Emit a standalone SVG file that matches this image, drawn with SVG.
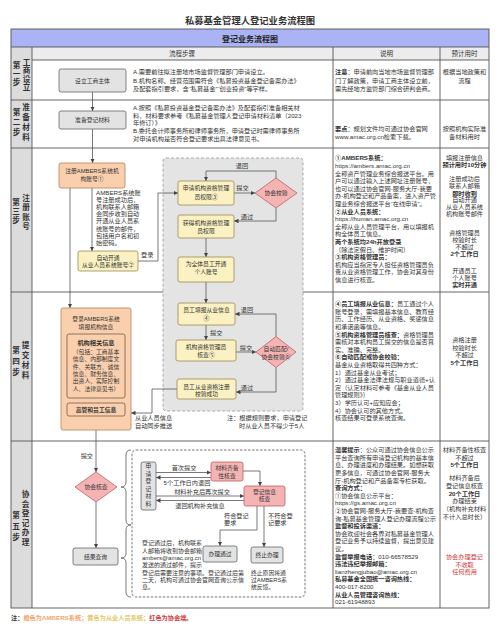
<svg xmlns="http://www.w3.org/2000/svg" width="500" height="640" viewBox="0 0 500 640">
<defs>
<style>
text{font-family:'Liberation Sans','Noto Sans CJK SC',sans-serif;font-size:6.2px;fill:#333}
.c{text-anchor:middle}
.e{text-anchor:end}
.b{font-weight:bold}
.s{font-size:5.8px}
.lb{font-size:7.6px;font-weight:bold;text-anchor:middle}
.grid{stroke:#555;stroke-width:0.9;fill:none}
.gray{fill:#e3e3e3;stroke:#666;stroke-width:0.8}
.org{fill:#f9cfae;stroke:#b9825c;stroke-width:0.8}
.yel{fill:#fbf1c2;stroke:#9a8a55;stroke-width:0.8}
.pink{fill:#f5b4b4;stroke:#bf5f5f;stroke-width:0.8}
.ln{fill:none;stroke:#555;stroke-width:0.8}
.ar{marker-end:url(#ah)}
.red{fill:#d23a3a}
</style>
<marker id="ah" viewBox="0 0 10 10" refX="10" refY="5" markerWidth="4.5" markerHeight="4.5" markerUnits="userSpaceOnUse" orient="auto"><path d="M0,0 L10,5 L0,10 z" fill="#444"/></marker>
</defs>
<rect x="0" y="0" width="500" height="640" fill="#fff"/>
<text x="250" y="23.5" class="c b" style="font-size:9.3px">私募基金管理人登记业务流程图</text>

<g id="table">
<rect x="11" y="29" width="478" height="18" fill="#aab3f3"/>
<rect x="32" y="47" width="457" height="13" fill="#ececec"/>
<rect x="11" y="47" width="21" height="561" fill="#dcdcdc"/>
<rect x="11" y="29" width="478" height="579" class="grid"/>
<path class="grid" d="M11,47 H489 M32,60 H489 M11,100 H489 M11,148 H489 M11,292 H489 M11,441 H489 M32,47 V608 M333,47 V608 M440,47 V608"/>
<text x="250" y="42.3" class="c b" style="font-size:8px;fill:#222">登记业务流程图</text>
<text x="182" y="56.3" class="c" style="font-size:6.5px">流程步骤</text>
<text x="386.5" y="56.3" class="c" style="font-size:6.5px">说明</text>
<text x="464.5" y="56.3" class="c" style="font-size:6.5px">预计用时</text>
</g>

<g id="step-labels">
<text class="lb"><tspan x="16.5" y="68.4">第</tspan><tspan x="16.5" y="76.9">一</tspan><tspan x="16.5" y="85.4">步</tspan></text>
<text class="lb"><tspan x="26.5" y="64.9">工</tspan><tspan x="26.5" y="73.4">商</tspan><tspan x="26.5" y="81.9">设</tspan><tspan x="26.5" y="90.4">立</tspan></text>
<text class="lb"><tspan x="16.5" y="114.6">第</tspan><tspan x="16.5" y="124.6">二</tspan><tspan x="16.5" y="134.6">步</tspan></text>
<text class="lb"><tspan x="26" y="109.6">准</tspan><tspan x="26" y="119.6">备</tspan><tspan x="26" y="129.6">材</tspan><tspan x="26" y="139.6">料</tspan></text>
<text class="lb"><tspan x="16" y="204.9">第</tspan><tspan x="16" y="213.9">三</tspan><tspan x="16" y="222.9">步</tspan></text>
<text class="lb"><tspan x="26" y="200.9">注</tspan><tspan x="26" y="210.4">册</tspan><tspan x="26" y="219.9">账</tspan><tspan x="26" y="229.4">号</tspan></text>
<text class="lb"><tspan x="16" y="352.9">第</tspan><tspan x="16" y="363.9">四</tspan><tspan x="16" y="374.9">步</tspan></text>
<text class="lb"><tspan x="25.5" y="347.9">提</tspan><tspan x="25.5" y="357.9">交</tspan><tspan x="25.5" y="367.9">材</tspan><tspan x="25.5" y="377.9">料</tspan></text>
<text class="lb"><tspan x="16" y="517.9">第</tspan><tspan x="16" y="528.9">五</tspan><tspan x="16" y="539.9">步</tspan></text>
<text class="lb"><tspan x="25.5" y="496.9">协</tspan><tspan x="25.5" y="506.5">会</tspan><tspan x="25.5" y="516.1">登</tspan><tspan x="25.5" y="525.7">记</tspan><tspan x="25.5" y="535.3">办</tspan><tspan x="25.5" y="544.9">理</tspan></text>
</g>

<g id="regions">
<rect x="163" y="158" width="140" height="253" rx="3" fill="#e4e4e4" stroke="#9a9a9a" stroke-width="0.8" stroke-dasharray="3,2"/>
<rect x="132" y="450" width="173" height="147" rx="4" fill="#fff" stroke="#555" stroke-width="0.8" stroke-dasharray="2.5,1.5"/>
<path class="ln" d="M131,450 Q126,450 126,455 V482 Q126,487 121,487 Q126,487 126,492 V520 Q126,525 131,525"/>
<path class="ln" d="M131,525 Q126,525 126,530 V553 Q126,558 121,558 Q126,558 126,563 V592 Q126,597 131,597"/>
</g>

<g id="connectors">
<path class="ln ar" d="M92.5,92 V111"/>
<path class="ln ar" d="M92.5,129 V163"/>
<path class="ln ar" d="M70,188 V308"/>
<path class="ln ar" d="M92,188 V251"/>
<path class="ln ar" d="M138,261 H158 V193 H178"/>
<path class="ln ar" d="M234,193 H255"/>
<path class="ln ar" d="M276,178 V171 H206 V181"/>
<path class="ln ar" d="M276,208 V221 H234"/>
<path class="ln ar" d="M206,238 V257"/>
<path class="ln ar" d="M206,282 V303"/>
<path class="ln ar" d="M206,325 V340"/>
<path class="ln ar" d="M236,352 H256"/>
<path class="ln ar" d="M276,336.5 V314 H235"/>
<path class="ln ar" d="M276,367.5 V392 H236"/>
<path class="ln ar" d="M177,389 H152 V413 H131"/>
<path class="ln ar" d="M96,430 V472"/>
<path class="ln ar" d="M96,502 V548"/>
<path class="ln ar" d="M156,472.5 H211"/>
<path class="ln ar" d="M211,477.5 H156"/>
<path class="ln ar" d="M156,496 H244"/>
<path class="ln ar" d="M244,500.5 H156"/>
<path class="ln ar" d="M243,471 H260 V486"/>
<path class="ln ar" d="M257,506 V530 H220 V546"/>
<path class="ln ar" d="M264,506 V547"/>
<text x="141" y="257">登录</text>
<text x="242.5" y="190" class="c">提交</text>
<text x="242" y="168" class="c">退回</text>
<text x="247" y="219" class="c">通过</text>
<text x="210" y="335">提交</text>
<text x="246" y="349.5" class="c">提交</text>
<text x="247" y="311.5" class="c">退回</text>
<text x="247" y="389.5" class="c">通过</text>
<text x="135" y="420">从业人员信息</text>
<text x="135" y="428">自动同步推送</text>
<text x="93" y="458" class="e">提交</text>
<text x="184" y="470.2" class="c">首次提交</text>
<text x="187" y="484.8" class="c">5个工作日内退回</text>
<text x="202" y="493.7" class="c">材料补充后再次提交</text>
<text x="200" y="508" class="c">退回机构补充信息</text>
<text x="224" y="517.5">符合登记</text>
<text x="224" y="525.2">要求</text>
<text x="268" y="517.5">不符合登</text>
<text x="268" y="525.2">记要求</text>
</g>

<g id="step1">
<g id="n-setup"><rect x="59" y="69" width="67" height="23" rx="2" class="gray"/><text x="92.5" y="82.6" class="c s">设立工商主体</text></g>
<text x="133" y="74.3">A.需要前往拟注册地市场监督管理部门申请设立。</text>
<text x="133" y="82.5">B.机构名称、经营范围需符合《私募投资基金登记备案办法》</text>
<text x="133" y="90.7">及配套指引要求，含“私募基金”“创业投资”等字样。</text>
<text x="335" y="74.3"><tspan class="b">注意</tspan>：申请前向当地市场监督管理部</text>
<text x="335" y="82.5">门了解政策，申请工商主体设立前，</text>
<text x="335" y="90.7">需先经地方监管部门综合研判会商。</text>
<text x="464.5" y="74.3" class="c">根据当地政策和</text>
<text x="464.5" y="82.5" class="c">流程</text>
</g>

<g id="step2">
<g id="n-prepare"><rect x="59" y="111" width="67" height="18" rx="2" class="gray"/><text x="92.5" y="122.2" class="c s">准备登记材料</text></g>
<text x="133" y="110.2">A.按照《私募投资基金登记备案办法》及配套指引准备相关材</text>
<text x="133" y="117.8">料，材料要求参考《私募基金管理人登记申请材料清单（2023</text>
<text x="133" y="125.4">年修订）》</text>
<text x="133" y="133">B.委托会计师事务所和律师事务所，申请登记时需律师事务所</text>
<text x="133" y="140.6">对申请机构是否符合登记要求出具法律意见书。</text>
<text x="335" y="130.5"><tspan class="b">要点</tspan>：规划文件均可通过协会官网</text>
<text x="335" y="138.5">www.amac.org.cn检索下载。</text>
<text x="464.5" y="130.5" class="c">按照机构实际准</text>
<text x="464.5" y="138.5" class="c">备材料用时</text>
</g>

<g id="step3">
<g id="n-ambers"><rect x="59" y="163" width="66" height="25" rx="2" class="org"/><text x="92" y="173.2" class="c s">注册AMBERS系统机</text><text x="92" y="180.7" class="c s">构账号①</text></g>
<text x="96" y="195">AMBERS系统账</text>
<text x="96" y="202.1">号注册成功后，</text>
<text x="96" y="209.2">机构联系人邮箱</text>
<text x="96" y="216.3">会同步收到自动</text>
<text x="96" y="223.4">开通从业人员系</text>
<text x="96" y="230.5">统账号的邮件，</text>
<text x="96" y="237.6">包括用户名和初</text>
<text x="96" y="244.7">始密码。</text>
<g id="n-auto"><rect x="78" y="251" width="60" height="20" rx="2" class="yel"/><text x="108" y="259.8" class="c s">自动开通</text><text x="108" y="267" class="c s">从业人员系统账号②</text></g>
<g id="n-apply-admin"><rect x="178" y="181" width="56" height="24" rx="2" class="yel"/><text x="206" y="190.4" class="c s">申请机构资格管理</text><text x="206" y="198.5" class="c s">员权限③</text></g>
<g id="n-verify"><polygon points="276,178 297,193 276,208 255,193" class="pink"/><text x="276" y="195.2" class="c s">协会校验</text></g>
<g id="n-get-admin"><rect x="178" y="215" width="56" height="23" rx="2" class="yel"/><text x="206" y="225" class="c s">获得机构资格管理</text><text x="206" y="232.8" class="c s">员权限</text></g>
<g id="n-open"><rect x="178" y="257" width="56" height="25" rx="2" class="yel"/><text x="206" y="266.3" class="c s">为全体员工开通</text><text x="206" y="274.3" class="c s">个人账号</text></g>
<text x="335" y="160.3" class="b">①AMBERS系统：</text>
<text x="335" y="167.9">https://ambers.amac.org.cn</text>
<text x="335" y="175.5">全称资产管理业务综合报送平台。用</text>
<text x="335" y="183.1">户可以通过输入上述网址注册账号，</text>
<text x="335" y="190.7">也可以通过协会官网-服务大厅-我要</text>
<text x="335" y="198.3">办-机构登记和产品备案，进入资产管</text>
<text x="335" y="205.9">理业务综合报送平台“在线申请”。</text>
<text x="335" y="213.5" class="b">②从业人员系统：</text>
<text x="335" y="221.1">https://human.amac.org.cn</text>
<text x="335" y="228.7">全称从业人员管理平台，用以填报机</text>
<text x="335" y="236.3">构全体员工信息。</text>
<text x="335" y="243.9" class="b">两个系统均24h开放登录</text>
<text x="335" y="251.5">（除法定假日、维护时间）</text>
<text x="335" y="259.1" class="b">③机构资格管理员：</text>
<text x="335" y="266.7">机构应当指定专人担任资格管理员负</text>
<text x="335" y="274.3">责从业资格管理工作，协会对其身份</text>
<text x="335" y="281.9">信息进行核查。</text>
<text x="464.5" y="159.7" class="c">填报注册信息</text>
<text x="464.5" y="166.7" class="c b">预计用时10分钟</text>
<text x="464.5" y="180.5" class="c">注册成功后</text>
<text x="464.5" y="187.9" class="c">联系人邮箱</text>
<text x="464.5" y="195.5" class="c b">即时收到</text>
<text x="464.5" y="202.2" class="c">自动开通</text>
<text x="464.5" y="208.9" class="c">从业人员系统</text>
<text x="464.5" y="215.5" class="c">机构账号邮件</text>
<text x="464.5" y="234.5" class="c">资格管理员</text>
<text x="464.5" y="241.5" class="c">校验时长</text>
<text x="464.5" y="248.9" class="c">不超过</text>
<text x="464.5" y="255.5" class="c b">2个工作日</text>
<text x="464.5" y="273.2" class="c">开通员工</text>
<text x="464.5" y="279.9" class="c">个人账号</text>
<text x="464.5" y="287.2" class="c b">实时开通</text>
</g>

<g id="step4">
<g id="n-fill-org"><rect x="61" y="308" width="70" height="122" rx="2" class="org"/><text x="96" y="321" class="c s">登录AMBERS系统</text><text x="96" y="329" class="c s">填报机构信息</text>
<rect x="67" y="334" width="58" height="64" rx="2" fill="#f9cfae" stroke="#7a5a44" stroke-width="0.8"/>
<text x="96" y="345.3" class="c b">机构相关信息</text>
<text x="96" y="354" class="c s">（包括：工商基本</text>
<text x="96" y="361.3" class="c s">信息、内部制度文</text>
<text x="96" y="368.6" class="c s">件、关联方、诚信</text>
<text x="96" y="375.9" class="c s">信息、财务信息、</text>
<text x="96" y="383.2" class="c s">出资人、实际控制</text>
<text x="96" y="390.5" class="c s">人、法律意见书）</text>
<rect x="67" y="403" width="58" height="13" rx="2" fill="#f9cfae" stroke="#7a5a44" stroke-width="0.8"/>
<text x="96" y="411.8" class="c b s">高管和员工信息</text></g>
<g id="n-staff-fill"><rect x="178" y="303" width="57" height="22" rx="2" class="yel"/><text x="206.5" y="312.2" class="c s">员工填报从业信息</text><text x="206.5" y="320.2" class="c s">④</text></g>
<g id="n-admin-check"><rect x="176" y="340" width="60" height="21" rx="2" class="yel"/><text x="206" y="349.2" class="c s">机构资格管理员</text><text x="206" y="357.2" class="c s">核查⑤</text></g>
<g id="n-match"><polygon points="276,336.5 296,352 276,367.5 256,352" class="pink"/><text x="276" y="350.5" class="c s">自动匹配/</text><text x="276" y="358.5" class="c s">协会校验⑥</text></g>
<g id="n-reg-ok"><rect x="177" y="379" width="59" height="20" rx="2" class="yel"/><text x="206.5" y="388.5" class="c s">员工从业资格注册</text><text x="206.5" y="396" class="c s">校验成功</text></g>
<text x="227" y="420">注：根据规则要求，申请登记</text>
<text x="239" y="428">时从业人员不得少于5人</text>
<text x="335" y="306.2"><tspan class="b">④员工填报从业信息：</tspan>员工通过个人</text>
<text x="335" y="313.8">账号登录，需填报基本信息、教育经</text>
<text x="335" y="321.4">历、工作经历、从业资格、奖惩信息</text>
<text x="335" y="329">和承诺函等信息。</text>
<text x="335" y="336.6"><tspan class="b">⑤机构资格管理员核查：</tspan>资格管理员</text>
<text x="335" y="344.2">需核对本机构员工提交的信息是否真</text>
<text x="335" y="351.8">实、准确、完整。</text>
<text x="335" y="359.4" class="b">⑥自动匹配或协会校验：</text>
<text x="335" y="367">基金从业资格取得共四种方式：</text>
<text x="335" y="374.6">1）通过基金从业考试；</text>
<text x="335" y="382.2">2）通过基金法律法规与职业道德+认</text>
<text x="335" y="389.8">定（认定材料可参考《基金从业人员</text>
<text x="335" y="397.4">管理规则》）</text>
<text x="335" y="405">3）学历认可+应知应会；</text>
<text x="335" y="412.6">4）协会认可的其他方式。</text>
<text x="335" y="420.2">核查结果可登录系统查询。</text>
<text x="464.5" y="342.3" class="c">资格注册</text>
<text x="464.5" y="349.6" class="c">校验时长</text>
<text x="464.5" y="357.2" class="c">不超过</text>
<text x="464.5" y="365.3" class="c b">5个工作日</text>
</g>

<g id="step5">
<g id="n-assoc-check"><polygon points="96,472 117,487 96,502 75,487" class="pink"/><text x="96" y="489.2" class="c s">协会核查</text></g>
<g id="n-result"><rect x="73" y="548" width="45" height="17" rx="2" class="gray"/><text x="95.5" y="558.7" class="c s">结果查询</text></g>
<g id="n-submit"><rect x="141" y="462" width="15" height="48" rx="2" class="gray"/>
<text class="c s"><tspan x="148.5" y="468.2">申</tspan><tspan x="148.5" y="475.7">请</tspan><tspan x="148.5" y="483.2">登</tspan><tspan x="148.5" y="490.7">记</tspan><tspan x="148.5" y="498.2">材</tspan><tspan x="148.5" y="505.7">料</tspan></text></g>
<g id="n-complete"><rect x="211" y="462" width="32" height="19" rx="2" class="pink"/><text x="227" y="470.2" class="c s">材料齐备</text><text x="227" y="477.5" class="c s">性核查</text></g>
<g id="n-info-check"><rect x="244" y="486" width="41" height="20" rx="2" class="pink"/><text x="264.5" y="493.6" class="c s">登记信息</text><text x="264.5" y="501.3" class="c s">核查</text></g>
<g id="n-pass"><rect x="203" y="546" width="34" height="16" rx="2" class="gray"/><text x="220" y="556.2" class="c s">办理通过</text></g>
<g id="n-stop"><rect x="251" y="547" width="32" height="16" rx="2" class="gray"/><text x="267" y="557.2" class="c s">终止办理</text></g>
<text x="251" y="575" class="s">终止原因将通</text>
<text x="251" y="581.6" class="s">过AMBERS系</text>
<text x="251" y="588.8" class="s">统反馈。</text>
<text x="142" y="545.3" style="font-size:6px">登记通过后，机构联系</text>
<text x="142" y="552.6" style="font-size:6px">人邮箱将收到协会邮箱</text>
<text x="142" y="559.9" style="font-size:6px">ambers@amac.org.cn</text>
<text x="142" y="567.2" style="font-size:6px">发送的通过邮件，提示</text>
<text x="142" y="574.5" style="font-size:6px">登记后需要注意的事项。登记通过后第</text>
<text x="142" y="581.8" style="font-size:6px">二天，机构可通过协会官网查询公示信</text>
<text x="142" y="589.1" style="font-size:6px">息。</text>
<text x="335" y="452.2"><tspan class="b">温馨提示</tspan>：公众可通过协会信息公示</text>
<text x="335" y="459.8">平台查询所有申请登记机构的基本信</text>
<text x="335" y="467.4">息、办理进度和办理结果。如想获取</text>
<text x="335" y="475">更多信息，可通过协会官网-服务大</text>
<text x="335" y="482.6">厅-机构登记和产品备案专栏获取。</text>
<text x="335" y="490.2" class="b">查询方式：</text>
<text x="335" y="497.8">①协会信息公示平台：</text>
<text x="335" y="505.4">https://gs.amac.org.cn</text>
<text x="335" y="513">②协会官网-服务大厅-我要查-机构查</text>
<text x="335" y="520.6">询-私募基金管理人登记办理流程公示</text>
<text x="335" y="528.2" class="b">监督和投诉渠道：</text>
<text x="335" y="535.8">协会欢迎社会各界对私募基金管理人</text>
<text x="335" y="543.4">登记业务予以持续监督，提出意见建</text>
<text x="335" y="551">议。</text>
<text x="335" y="558.6"><tspan class="b">监督举报电话</tspan>：010-66578529</text>
<text x="335" y="566.2" class="b">违法违纪举报邮箱：</text>
<text x="335" y="573.8">lianzhengjubao@amac.org.cn</text>
<text x="335" y="581.4" class="b">私募基金全国统一咨询热线：</text>
<text x="335" y="589">400-017-8200</text>
<text x="335" y="596.6" class="b">从业人员管理咨询热线：</text>
<text x="335" y="604.2">021-61948893</text>
<text x="464.5" y="452.2" class="c">材料齐备性核查</text>
<text x="464.5" y="459.5" class="c">不超过</text>
<text x="464.5" y="467" class="c b">5个工作日</text>
<text x="464.5" y="480.2" class="c">材料齐备后</text>
<text x="464.5" y="487.7" class="c">登记信息核查</text>
<text x="464.5" y="495.8" class="c b">20个工作日</text>
<text x="464.5" y="503.2" class="c">办理结束</text>
<text x="464.5" y="511" class="c">（机构补充材料</text>
<text x="464.5" y="518.6" class="c">不计入总时长）</text>
<text x="464.5" y="559.2" class="c red">协会办理登记</text>
<text x="464.5" y="566.7" class="c red">不收取</text>
<text x="464.5" y="574.2" class="c red">任何费用</text>
</g>

<text x="11" y="619.5" class="b"><tspan>注：</tspan><tspan style="fill:#f2a468">橙色为AMBERS系统；</tspan><tspan style="fill:#e2c766">黄色为从业人员系统；</tspan><tspan style="fill:#d23a3a">红色为协会端。</tspan></text>
</svg>
